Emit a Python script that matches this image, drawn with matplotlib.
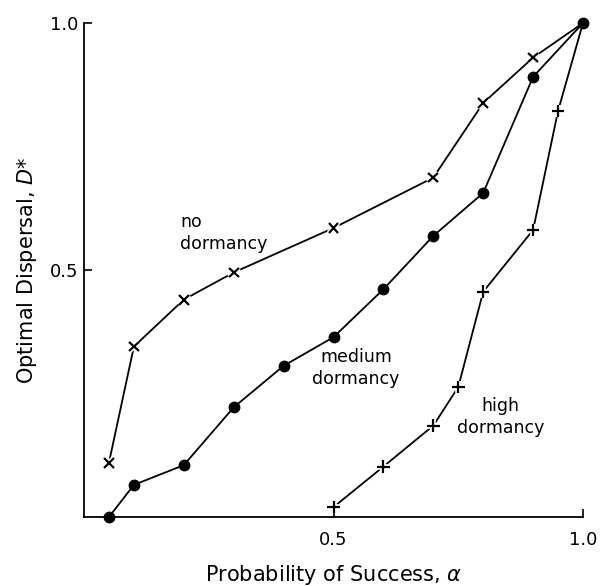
import matplotlib.pyplot as plt
import matplotlib.patheffects as pe

# datos
alpha_no = [0.05, 0.1, 0.2, 0.3, 0.5, 0.7, 0.8, 0.9, 1.0]
d_no = [0.11, 0.345, 0.44, 0.495, 0.585, 0.687, 0.838, 0.93, 1.0]

alpha_med = [0.05, 0.1, 0.2, 0.3, 0.4, 0.5, 0.6, 0.7, 0.8, 0.9, 1.0]
d_med = [0.0, 0.065, 0.105, 0.222, 0.306, 0.364, 0.461, 0.569, 0.656, 0.891, 1.0]

alpha_high = [0.5, 0.6, 0.7, 0.75, 0.8, 0.9, 0.95, 1.0]
d_high = [0.02, 0.102, 0.185, 0.263, 0.456, 0.581, 0.822, 1.0]

xticks = [0.5, 1.0]
yticks = [0.5, 1.0]

fig = plt.figure(figsize=(6.1, 5.86), dpi=100)
ax = fig.add_axes([84 / 610, 69 / 586, 499 / 610, 494 / 586])

halo = [pe.withStroke(linewidth=4, foreground="white")]

ax.plot(alpha_no, d_no, color="black", lw=1.3, clip_on=False)
ax.plot(alpha_no[:-1], d_no[:-1], ls="none", marker="x", ms=7, mew=1.6,
        color="black", path_effects=halo, clip_on=False)

ax.plot(alpha_high, d_high, color="black", lw=1.3, clip_on=False)
ax.plot(alpha_high[:-1], d_high[:-1], ls="none", marker="+", ms=9, mew=1.6,
        color="black", path_effects=halo, clip_on=False)

ax.plot(alpha_med, d_med, color="black", lw=1.3, marker="o", ms=7.5,
        clip_on=False, zorder=5)

ax.text(0.193, 0.615, "no\ndormancy", ha="left", va="top", fontsize=12.5,
        linespacing=1.3)
ax.text(0.545, 0.342, "medium\ndormancy", ha="center", va="top",
        fontsize=12.5, linespacing=1.3)
ax.text(0.835, 0.243, "high\ndormancy", ha="center", va="top",
        fontsize=12.5, linespacing=1.3)

ax.set_xlim(0, 1)
ax.set_ylim(0, 1)
ax.set_xticks(xticks)
ax.set_yticks(yticks)
ax.set_xticklabels(["0.5", "1.0"])
ax.set_yticklabels(["0.5", "1.0"])
ax.spines["top"].set_visible(False)
ax.spines["right"].set_visible(False)
for s in ["left", "bottom"]:
    ax.spines[s].set_linewidth(1.3)
ax.tick_params(axis="x", direction="in", length=6, width=1.2, labelsize=13, pad=10)
ax.tick_params(axis="y", direction="in", length=6, width=1.2, labelsize=13, pad=4)

ax.set_xlabel(r"Probability of Success, $\alpha$", fontsize=15, labelpad=10)
ax.set_ylabel(r"Optimal Dispersal, $D$*", fontsize=15, labelpad=8)

plt.savefig("out.png")
